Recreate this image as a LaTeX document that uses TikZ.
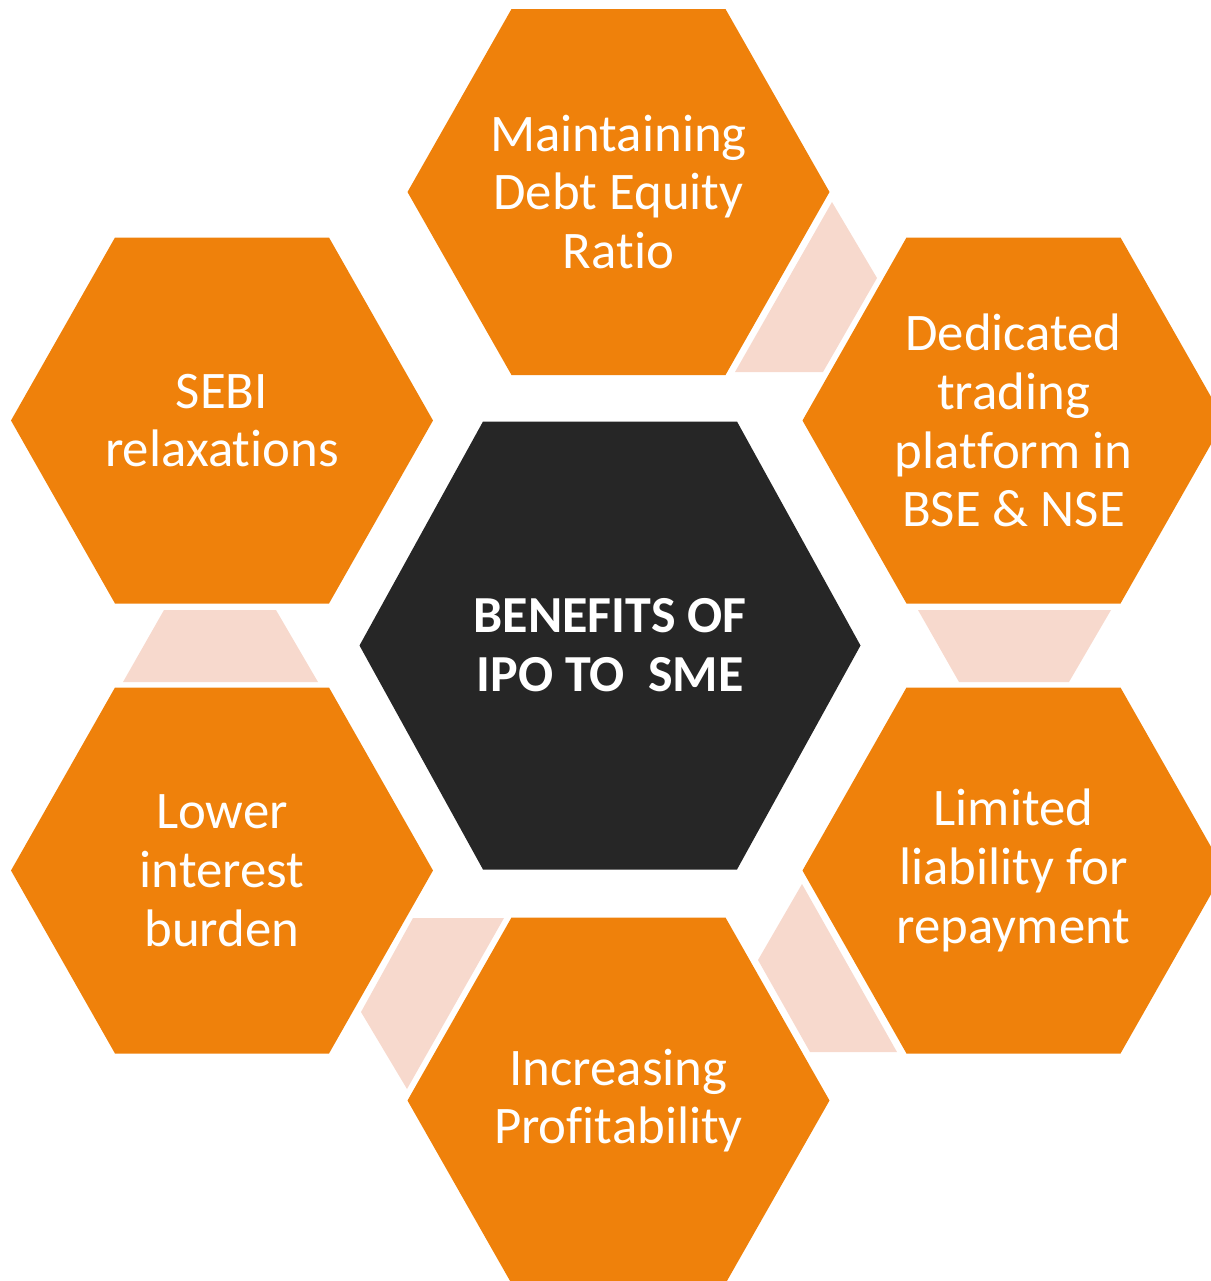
\documentclass[tikz,border=0pt]{standalone}
\usepackage{fontspec}
\setmainfont{Carlito}[Ligatures={NoCommon}]
\definecolor{hexorange}{HTML}{EF810B}
\definecolor{hexdark}{HTML}{262626}
\definecolor{linkpink}{HTML}{F7D9CD}
\newcommand{\hexshape}[6]{%
  \fill[#6] ({#1-#3},{#2}) -- ({#1-#4},{#2-#5}) -- ({#1+#4},{#2-#5}) -- ({#1+#3},{#2}) -- ({#1+#4},{#2+#5}) -- ({#1-#4},{#2+#5}) -- cycle;}
\begin{document}
\begin{tikzpicture}[x=0.5pt,y=-0.5pt,
  hextext/.style={text=white,align=center,font=\fontsize{26.4}{29.4}\selectfont},
  centertext/.style={text=white,align=center,font=\fontsize{26}{29.4}\selectfont\bfseries},
  link/.style={fill=linkpink}]
\useasboundingbox (0,0) rectangle (1211,1281);
\clip (0,0) rectangle (1211,1281);
% links
\fill[link] (832,202) -- (877,278) -- (823,372) -- (735,372) -- cycle;
\fill[link] (918,610) -- (1111,610) -- (1069,682) -- (959,682) -- cycle;
\fill[link] (802,884) -- (758,960) -- (810,1052) -- (897,1052) -- cycle;
\fill[link] (413,918) -- (504,918) -- (407,1089) -- (361,1012) -- cycle;
\fill[link] (164,610) -- (276,610) -- (318,682) -- (123,682) -- cycle;
% hexagons
\hexshape{618.5}{192}{211}{107}{183}{hexorange}
\hexshape{1013.5}{420.5}{211}{107}{183}{hexorange}
\hexshape{1013.5}{870.5}{211}{107}{183}{hexorange}
\hexshape{618.5}{1100.5}{211}{107}{183}{hexorange}
\hexshape{222}{870.5}{211}{107}{183}{hexorange}
\hexshape{222}{420.5}{211}{107}{183}{hexorange}
\hexshape{610}{645.5}{250.5}{127}{224}{hexdark}
% texts
\node[hextext] (top) at (618.5,192) {Maintaining\\Debt Equity\\Ratio};
\node[hextext] (tr) at (1013.5,420.5) {Dedicated\\trading\\platform in\\BSE \& NSE};
\node[hextext] (br) at (1013.5,870.5) {Limited\\liability for\\repayment};
\node[hextext] (bot) at (618.5,1100.5) {Increasing\\Profitability};
\node[hextext] (bl) at (222,870.5) {Lower\\interest\\burden};
\node[hextext] (tl) at (222,420.5) {SEBI\\relaxations};
\node[centertext] (ctr) at (610,645.5) {BENEFITS OF\\IPO TO\ \ SME};
\end{tikzpicture}
\end{document}
